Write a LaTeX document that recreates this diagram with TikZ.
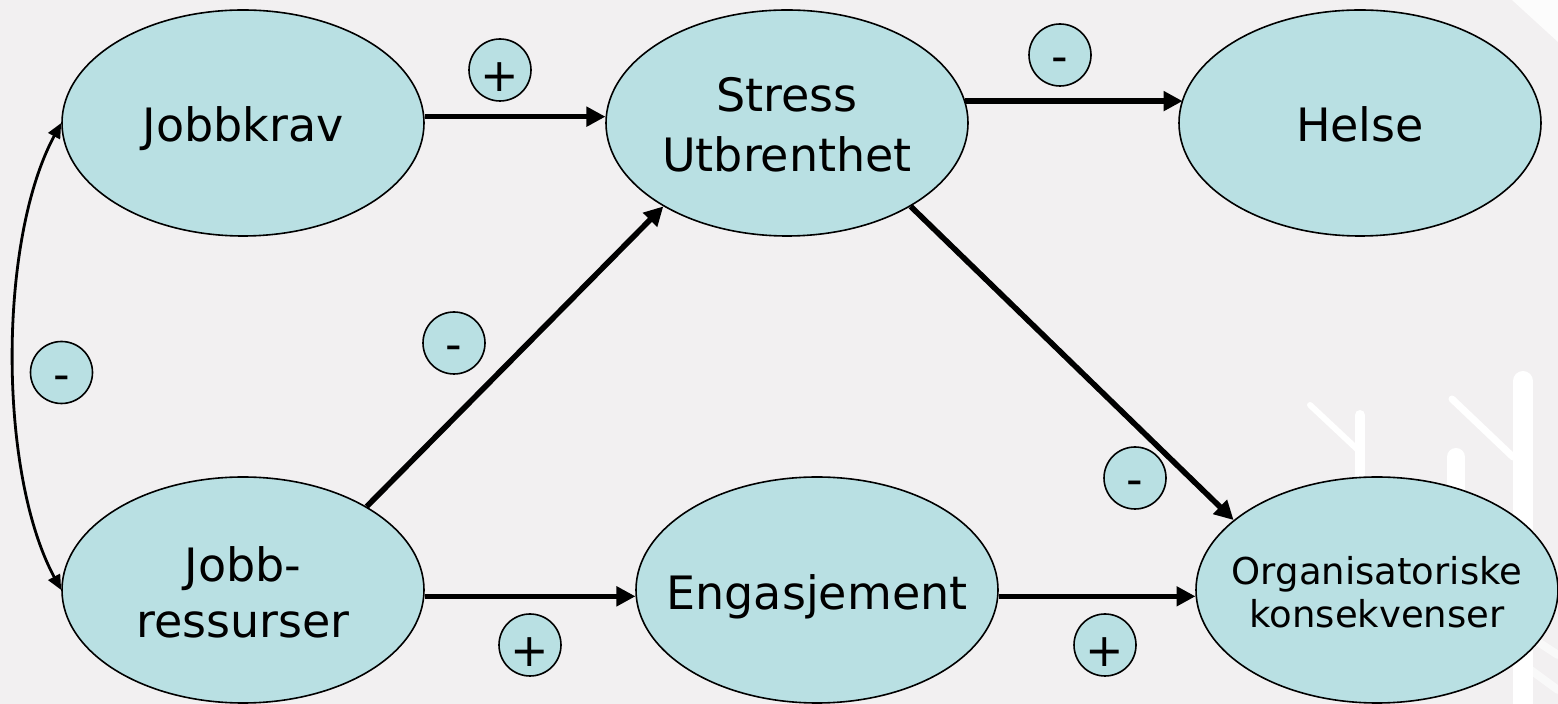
\documentclass[tikz,border=0pt]{standalone}
\usepackage{fontspec}
\setmainfont{DejaVu Sans}
\usetikzlibrary{shapes.geometric,arrows.meta}
\definecolor{bgc}{HTML}{F2F0F1}
\definecolor{fillc}{HTML}{B9E0E3}
\newcommand{\mytxt}[2]{\makebox[0pt]{\smash{\raisebox{#1}{\begin{tabular}[b]{@{}c@{}}#2\end{tabular}}}}}
\tikzset{
  bub/.style={ellipse, draw=black, line width=0.8pt, fill=fillc,
    minimum width=181pt, minimum height=113pt, inner sep=0pt},
  bigfont/.style={font=\fontsize{23}{30}\selectfont},
  sgn/.style={circle, draw=black, line width=0.8pt, fill=fillc,
    minimum size=31pt, inner sep=0pt, font=\fontsize{23}{28}\selectfont},
  arr/.style={line width=2.8pt, -{Triangle[length=9.5pt,width=9.5pt]}},
  thinarr/.style={line width=1.4pt, {Triangle[length=7.5pt,width=6.5pt]}-{Triangle[length=7.5pt,width=6.5pt]}},
  wm/.style={draw=white, line cap=round}
}
\begin{document}
\begin{tikzpicture}[x=0.5pt,y=-0.5pt]
\useasboundingbox (0,0) rectangle (1558,704);
\fill[bgc] (0,0) rectangle (1558,704);
% watermark
\draw[wm, line width=10pt] (1523,381) -- (1523,704);
\draw[wm, line width=9pt] (1456,457) -- (1456,560);
\draw[wm, line width=5pt] (1360,415) -- (1360,560);
\draw[wm, line width=3pt] (1310,405) -- (1358,450);
\draw[wm, line width=3.5pt] (1452,399) -- (1513,457);
\fill[white, opacity=0.8] (1512,0) -- (1558,0) -- (1558,42) -- cycle;
\draw[wm, line width=4pt, opacity=0.6] (1535,640) -- (1558,655);
\draw[wm, line width=4pt, opacity=0.6] (1528,668) -- (1558,690);
% main nodes
\node[bub, bigfont] (jk) at (243,123) {\mytxt{-9.5pt}{Jobbkrav}};
\node[bub, font=\fontsize{23}{30}\selectfont] (st) at (787,123) {\mytxt{-24.5pt}{Stress\\Utbrenthet}};
\node[bub, bigfont] (he) at (1360,123) {\mytxt{-9.5pt}{Helse}};
\node[bub, font=\fontsize{23}{28}\selectfont] (jr) at (243,590) {\mytxt{-24pt}{Jobb-\\ressurser}};
\node[bub, bigfont] (en) at (817,590) {\mytxt{-10pt}{Engasjement}};
\node[bub, font=\fontsize{18.5}{21.5}\selectfont] (or) at (1377,590) {\mytxt{-19pt}{Organisatoriske\\konsekvenser}};
% sign circles
\node[sgn] (c1) at (500,70) {\mytxt{-11pt}{+}};
\node[sgn] (c2) at (1060,55) {\mytxt{-9pt}{-}};
\node[sgn] (c3) at (61.5,372.5) {\mytxt{-9pt}{-}};
\node[sgn] (c4) at (454,343) {\mytxt{-9pt}{-}};
\node[sgn] (c5) at (530,645) {\mytxt{-11pt}{+}};
\node[sgn] (c6) at (1135,478) {\mytxt{-9pt}{-}};
\node[sgn] (c7) at (1105,645) {\mytxt{-11pt}{+}};
% connectors
\draw[arr] (jk.2) -- (st.178 |- jk.2);
\draw[arr] (st.7.4) -- (he.172.6 |- st.7.4);
\draw[arr] (jr.34) -- (st.214.5);
\draw[arr] (st.-34) -- (or.154);
\draw[arr] (jr.-2.4) -- (en.182.4 |- jr.-2.4);
\draw[arr] (en.-2.7) -- (or.182.7 |- en.-2.7);
\draw[thinarr] (jk.west) .. controls (-2,240) and (-2,473) .. (jr.west);
\end{tikzpicture}
\end{document}
